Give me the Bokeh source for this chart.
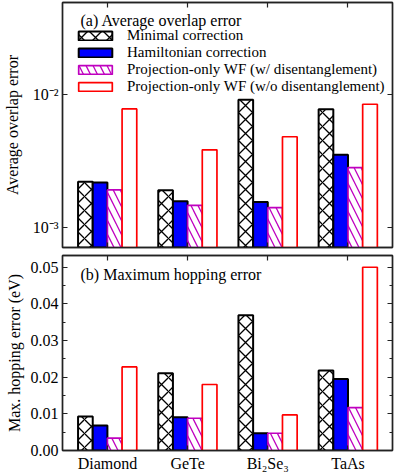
import numpy as np
from bokeh.plotting import figure
from bokeh.models import (Range1d, FixedTicker, LinearAxis, LogAxis, Legend,
                          LegendItem, Label)
from bokeh.layouts import column
from bokeh.embed import file_html
from bokeh.resources import INLINE

# ---------------- data ----------------
categories = ["Diamond", "GeTe", "Bi₂Se₃", "TaAs"]
series_names = ["Minimal correction",
                "Hamiltonian correction",
                "Projection-only WF (w/ disentanglement)",
                "Projection-only WF (w/o disentanglement)"]

overlap_minimal = [2.20e-3, 1.90e-3, 9.17e-3, 7.78e-3]
overlap_hamiltonian = [2.17e-3, 1.57e-3, 1.55e-3, 3.52e-3]
overlap_proj_dis = [1.91e-3, 1.46e-3, 1.40e-3, 2.82e-3]
overlap_proj_nodis = [7.83e-3, 3.84e-3, 4.82e-3, 8.49e-3]

hop_minimal = [0.0093, 0.0211, 0.0369, 0.0218]
hop_hamiltonian = [0.0068, 0.0091, 0.0047, 0.0195]
hop_proj_dis = [0.0034, 0.0088, 0.0047, 0.0117]
hop_proj_nodis = [0.0228, 0.0180, 0.0097, 0.0500]

log_ticks = [1e-3, 1e-2]
log_tick_labels = ["10⁻³", "10⁻²"]
lin_ticks = [0.0, 0.01, 0.02, 0.03, 0.04, 0.05]
lin_tick_labels = ["0.00", "0.01", "0.02", "0.03", "0.04", "0.05"]
lin_minor_ticks = [0.005, 0.015, 0.025, 0.035, 0.045]

# ---------------- styles ----------------
FONT = "Liberation Serif"
BAR_W = 0.183
styles = [
    dict(fill_color="white", line_color="black", line_width=2.0,
         hatch_pattern="diagonal_cross", hatch_color="black", hatch_scale=14, hatch_weight=1.3),
    dict(fill_color="#0000ff", line_color="black", line_width=2.0),
    dict(fill_color="white", line_color="#bf00bf", line_width=1.7,
         hatch_pattern="left_diagonal_line", hatch_color="#bf00bf", hatch_scale=14, hatch_weight=1.3),
    dict(fill_color="white", line_color="#ff0000", line_width=1.7),
]

x_idx = np.arange(len(categories))
W = 395


def style_axis(ax, labels=True, size="16px"):
    ax.axis_line_color = "#222222"
    ax.axis_line_width = 1.4
    ax.major_tick_line_color = "#222222"
    ax.minor_tick_line_color = "#222222"
    ax.major_tick_in = 5
    ax.major_tick_out = 0
    ax.minor_tick_in = 3
    ax.minor_tick_out = 0
    ax.major_tick_line_width = 1.2
    ax.minor_tick_line_width = 1.0
    ax.major_label_text_font = FONT
    ax.axis_label_text_font = FONT
    ax.axis_label_text_font_style = "normal"
    ax.axis_label_text_font_size = "16px"
    ax.axis_label_text_color = "black"
    ax.major_label_text_color = "black"
    if labels:
        ax.major_label_text_font_size = size
        ax.major_label_standoff = 4
    else:
        ax.major_label_text_font_size = "0px"
        ax.major_label_standoff = 0
        ax.major_label_text_alpha = 0


def make_fig(height, y_range, y_type, top, bottom):
    p = figure(width=W, height=height, x_range=Range1d(-0.56, 3.555), y_range=y_range,
               y_axis_type=y_type, output_backend="svg", toolbar_location=None,
               min_border_left=58, min_border_right=3, min_border_top=top,
               min_border_bottom=bottom)
    p.grid.visible = False
    p.outline_line_color = "#222222"
    p.outline_line_width = 1.4
    p.background_fill_color = "white"
    p.border_fill_color = "white"
    return p


def add_bars(p, values_list, bottom):
    rends = []
    for i, vals in enumerate(values_list):
        xs = x_idx + (i - 1.5) * BAR_W
        r = p.vbar(x=xs, top=vals, bottom=bottom, width=BAR_W, **styles[i])
        rends.append(r)
    return rends


def add_frame_axes(p, log, yticks, ylabels, minor, xlabels):
    cat_ticker = FixedTicker(ticks=[float(i) for i in x_idx], minor_ticks=[])
    left = p.yaxis[0]
    below = p.xaxis[0]
    left.ticker = FixedTicker(ticks=yticks, minor_ticks=minor)
    left.major_label_overrides = {t: l for t, l in zip(yticks, ylabels)}
    style_axis(left)
    below.ticker = cat_ticker
    below.major_label_overrides = {float(i): c for i, c in zip(x_idx, categories)}
    style_axis(below, labels=xlabels)
    right = LogAxis() if log else LinearAxis()
    right.ticker = FixedTicker(ticks=yticks, minor_ticks=minor)
    style_axis(right, labels=False)
    p.add_layout(right, "right")
    above = LinearAxis(ticker=cat_ticker)
    style_axis(above, labels=False)
    p.add_layout(above, "above")
    return left


# ---------------- top panel ----------------
FH1 = 245
p1 = make_fig(251, Range1d(7e-4, 0.05), "log", 2, 4)
r1 = add_bars(p1, [overlap_minimal, overlap_hamiltonian, overlap_proj_dis, overlap_proj_nodis], 1e-5)
l1 = add_frame_axes(p1, True, log_ticks, log_tick_labels, [], False)
l1.axis_label = "Average overlap error"
l1.axis_label_standoff = 9

p1.add_layout(Label(x=18, y=FH1 - 9, x_units="screen", y_units="screen",
                    text="(a) Average overlap error", text_font=FONT,
                    text_font_size="16px", text_baseline="top", text_color="black"))

legend = Legend(items=[LegendItem(label=n, renderers=[r]) for n, r in zip(series_names, r1)],
                location=(12, 152), glyph_width=42, glyph_height=11, label_standoff=11,
                spacing=-1, padding=0, margin=0, border_line_color=None,
                background_fill_alpha=0, label_text_font=FONT,
                label_text_font_size="15px", label_height=16, label_text_color="black")
p1.add_layout(legend)

# ---------------- bottom panel ----------------
FH2 = 196
p2 = make_fig(223, Range1d(0, 0.0532), "linear", 4, 0)
add_bars(p2, [hop_minimal, hop_hamiltonian, hop_proj_dis, hop_proj_nodis], 0)
l2 = add_frame_axes(p2, False, lin_ticks, lin_tick_labels, lin_minor_ticks, True)
l2.axis_label = "Max. hopping error (eV)"

p2.add_layout(Label(x=18, y=FH2 - 11, x_units="screen", y_units="screen",
                    text="(b) Maximum hopping error", text_font=FONT,
                    text_font_size="16px", text_baseline="top", text_color="black"))

layout = column(p1, p2, spacing=0)
open("out.html", "w").write(file_html(layout, INLINE))
